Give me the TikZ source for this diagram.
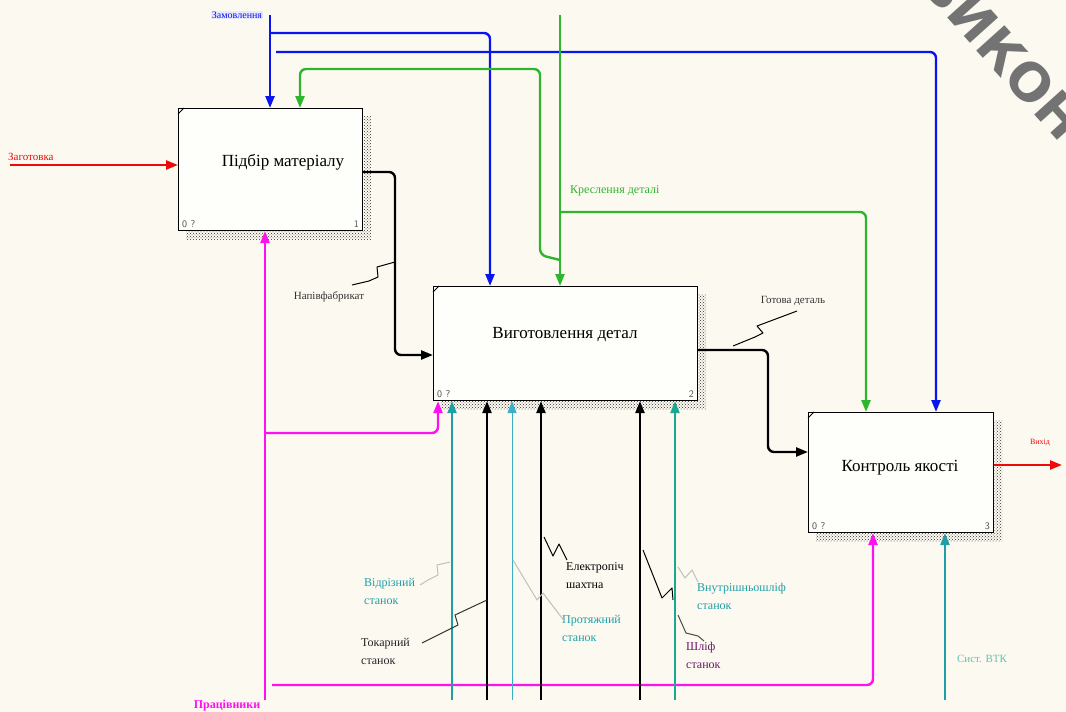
\documentclass[tikz,border=0pt]{standalone}
\usepackage{fontspec}
\setmainfont{Liberation Serif}
\newfontfamily\wmfont{DejaVu Sans}
\usetikzlibrary{arrows.meta,patterns,calc}
\definecolor{bg}{HTML}{FCFAF0}
\definecolor{cblue}{HTML}{0A14F0}
\definecolor{cgreen}{HTML}{2EB52E}
\definecolor{cred}{HTML}{EE0A0A}
\definecolor{cmag}{HTML}{FF10F0}
\definecolor{cteal}{HTML}{1E9EA6}
\definecolor{cteal2}{HTML}{3AB0C8}
\definecolor{cteal3}{HTML}{1AA890}
\definecolor{cdark}{HTML}{2A1E2A}
\begin{document}
\begin{tikzpicture}[x=1pt,y=-1pt,
  box/.style={draw=black, line width=1.1pt, fill=white!70!bg, anchor=north west, inner sep=0pt},
  boxtext/.style={font=\fontsize{17}{20}\selectfont, text=black},
  corner/.style={font=\sffamily\fontsize{10}{12}\selectfont, text=black!70, inner sep=0pt},
  shadow/.style={pattern=crosshatch dots, pattern color=black!80},
  arr/.style={-{Triangle[length=12pt,width=9pt]}},
  conn/.style={line width=2.4pt, rounded corners=6pt},
  lbl/.style={font=\fontsize{11}{13}\selectfont, inner sep=0pt},
  mlbl/.style={font=\fontsize{12}{18}\selectfont, inner sep=0pt, align=left, anchor=north west},
  squig/.style={line width=1pt, line join=round},
  faint/.style={squig, draw=black!25}
]
\useasboundingbox (0,0) rectangle (1066,712);
\fill[bg] (0,0) rectangle (1066,712);
\clip (0,0) rectangle (1066,712);

% watermark
\node[font=\wmfont\bfseries\fontsize{52}{56}\selectfont, text=black!55, rotate=-48] (wm) at (1003,52) {ВИКОН};

% boxes
\node[box, minimum width=184pt, minimum height=122pt] (b1) at (178,108) {};
\node[box, minimum width=264pt, minimum height=114pt] (b2) at (433,286) {};
\node[box, minimum width=185pt, minimum height=120pt] (b3) at (808,412) {};

\foreach \b in {b1,b2,b3}{
  \fill[shadow] ($(\b.north east)+(0.6,8)$) rectangle ($(\b.south east)+(8,8)$);
  \fill[shadow] ($(\b.south west)+(8,0.6)$) rectangle ($(\b.south east)+(0.6,8)$);
  \draw[line width=0.8pt] ($(\b.north west)+(0,6)$) -- ($(\b.north west)+(6,0)$);
}

\node[boxtext] (t1) at (283,162) {Підбір матеріалу};
\node[boxtext] (t2) at (565,335) {Виготовлення детал};
\node[boxtext] (t3) at (900,468) {Контроль якості};

\node[corner, anchor=south west] (n1a) at ($(b1.south west)+(4,-3)$) {0 ?};
\node[corner, anchor=south east] (n1b) at ($(b1.south east)+(-4,-3)$) {1};
\node[corner, anchor=south west] (n2a) at ($(b2.south west)+(4,-3)$) {0 ?};
\node[corner, anchor=south east] (n2b) at ($(b2.south east)+(-4,-3)$) {2};
\node[corner, anchor=south west] (n3a) at ($(b3.south west)+(4,-3)$) {0 ?};
\node[corner, anchor=south east] (n3b) at ($(b3.south east)+(-4,-3)$) {3};

% ---------- blue (Замовлення)
\node[lbl, font=\fontsize{10}{12}\selectfont, text=cblue, fill=blue!9, inner sep=1pt] (zamL) at (237,15) {Замовлення};
\coordinate (zam) at (270,15);
\coordinate (zj1) at (270,33);
\coordinate (zj2) at (276,52);
\draw[conn, cblue, arr] (zam) -- (zam |- b1.north);
\draw[conn, cblue, arr] (zj1) -| (490,0 |- b2.north);
\draw[conn, cblue, arr] (zj2) -| (936,0 |- b3.north);

% ---------- green (Креслення деталі)
\coordinate (gtop) at (560,15);
\draw[conn, cgreen, arr] (gtop) -- (gtop |- b2.north);
\draw[conn, cgreen, arr] (560,260) -- (540,255) -- (540,69) -- (300,69) -- (300,0 |- b1.north);
\draw[conn, cgreen, arr] (560,212) -| (866,0 |- b3.north);
\node[lbl, font=\fontsize{12}{14}\selectfont, text=cgreen, anchor=west] (krL) at (570,191) {Креслення деталі};

% ---------- red
\coordinate (zag) at (10,165);
\draw[conn, cred, arr] (zag) -- (b1.west |- zag);
\node[lbl, text=cred, anchor=south west] (zagL) at (8,161) {Заготовка};
\coordinate (vyh) at (1062,465);
\draw[conn, cred, arr] (b3.east |- vyh) -- (vyh);
\node[lbl, font=\fontsize{8}{10}\selectfont, text=cred] (vyhL) at (1040,443) {Вихід};

% ---------- black flows
\draw[conn, black, arr] (362,172) -- (395,172) -- (395,355) -- (b2.west |- 0,355);
\draw[conn, black, arr] (697,350) -- (768,350) -- (768,452) -- (b3.west |- 0,452);
\node[lbl, text=black!80] (napL) at (329,297) {Напівфабрикат};
\draw[squig] (395,262) -- (377,267) -- (378,277) -- (369,281) -- (352,285);
\node[lbl, text=black!80] (gotL) at (793,301) {Готова деталь};
\draw[squig] (733,346) -- (755,337) -- (763,333) -- (757,326) -- (797,311);

% ---------- magenta (Працівники)
\coordinate (prac) at (265,700);
\draw[conn, cmag, arr] (prac) -- (prac |- b1.south);
\draw[conn, cmag, arr] (265,433) -| (438,0 |- b2.south);
\draw[conn, cmag, arr] (272,685) -| (873,0 |- b3.south);
\node[lbl, font=\fontsize{12}{14}\selectfont\bfseries, text=cmag] (pracL) at (227,706) {Працівники};

% ---------- mechanisms
\draw[line width=2pt, cteal, arr] (452,700) -- (452,0 |- b2.south);
\draw[line width=2.4pt, black, arr] (487,700) -- (487,0 |- b2.south);
\draw[line width=1pt, cteal2, arr] (512,700) -- (512,0 |- b2.south);
\draw[line width=2.4pt, black, arr] (541,700) -- (541,0 |- b2.south);
\draw[line width=2.4pt, black, arr] (640,700) -- (640,0 |- b2.south);
\draw[line width=2pt, cteal3, arr] (675,700) -- (675,0 |- b2.south);
\draw[line width=2.2pt, cteal, arr] (945,700) -- (945,0 |- b3.south);

\node[mlbl, text=cteal] (m1) at (364,578) {Відрізний\\станок};
\draw[faint] (450,562) -- (437,565) -- (438,575) -- (428,580) -- (420,585);
\node[mlbl, text=cdark] (m2) at (361,638) {Токарний\\станок};
\draw[squig, draw=black!80] (487,600) -- (455,615) -- (458,625) -- (422,643);
\node[mlbl, text=black] (m3) at (566,562) {Електропіч\\шахтна};
\draw[squig] (544,537) -- (553,556) -- (559,544) -- (567,560);
\node[mlbl, text=cteal] (m4) at (562,615) {Протяжний\\станок};
\draw[faint] (513,560) -- (537,600) -- (543,593) -- (565,622);
\draw[squig] (643,550) -- (662,598) -- (672,588) -- (673,600);
\node[mlbl, text=cteal] (m5) at (697,583) {Внутрішньошліф\\станок};
\draw[faint] (678,567) -- (685,578) -- (692,570) -- (698,582);
\node[mlbl, text=cdark!70!magenta] (m6) at (686,642) {Шліф\\станок};
\draw[squig, draw=black!70] (678,615) -- (686,633) -- (698,636) -- (704,641);
\node[lbl, text=cteal3!70!white] (vtk) at (982,659) {Сист. ВТК};
\end{tikzpicture}
\end{document}
